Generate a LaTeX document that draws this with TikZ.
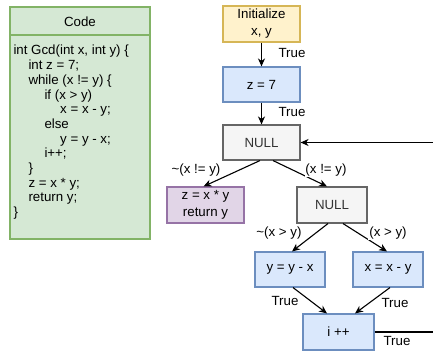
\documentclass[tikz,border=0pt]{standalone}
\usepackage{fontspec}
\setmainfont{Liberation Sans}
\usetikzlibrary{arrows.meta}
\definecolor{yfill}{HTML}{FFF2CC}\definecolor{ydraw}{HTML}{D6B656}
\definecolor{bfill}{HTML}{DAE8FC}\definecolor{bdraw}{HTML}{6C8EBF}
\definecolor{gfill}{HTML}{F5F5F5}\definecolor{gdraw}{HTML}{666666}\definecolor{gtext}{HTML}{333333}
\definecolor{pfill}{HTML}{E1D5E7}\definecolor{pdraw}{HTML}{9673A6}
\definecolor{cfill}{HTML}{D5E8D4}\definecolor{cdraw}{HTML}{82B366}
\tikzset{
  txt/.style={font=\fontsize{13.3}{15}\selectfont},
  box/.style={font=\fontsize{13.3}{17}\selectfont, draw, line width=1.1pt, minimum width=77pt, minimum height=35pt, inner sep=0pt, align=center},
  ybox/.style={box, fill=yfill, draw=ydraw},
  bbox/.style={box, fill=bfill, draw=bdraw},
  gbox/.style={box, fill=gfill, draw=gdraw, text=gtext},
  pbox/.style={box, fill=pfill, draw=pdraw},
  arr/.style={line width=1.1pt, -{Stealth[length=8pt,width=7pt,inset=2.5pt]}},
  plain/.style={line width=1.1pt},
  lab/.style={txt, fill=white, inner sep=1pt},
  codeline/.style={txt, anchor=base west, inner sep=0pt},
}
\begin{document}
\begin{tikzpicture}[x=1pt,y=-1pt]
\useasboundingbox (0,0) rectangle (433,363);
% code panel
\path[fill=cfill, draw=cdraw, line width=1.1pt] (10,7) rectangle (150,239);
\draw[cdraw, line width=1.1pt] (10,35) -- (150,35);
\node[txt] (codehead) at (80,22) {Code};
\node[codeline] (l1) at (13.3,55) {int Gcd(int x, int y) \{};
\node[codeline] (l2) at (28.3,69.7) {int z = 7;};
\node[codeline] (l3) at (28.3,84.4) {while (x != y) \{};
\node[codeline] (l4) at (44.3,99.1) {if (x > y)};
\node[codeline] (l5) at (60,113.8) {x = x - y;};
\node[codeline] (l6) at (44.3,128.5) {else};
\node[codeline] (l7) at (60,143.2) {y = y - x;};
\node[codeline] (l8) at (44.3,157.9) {i++;};
\node[codeline] (l9) at (28.3,172.6) {\}};
\node[codeline] (l10) at (28.3,187.3) {z = x * y;};
\node[codeline] (l11) at (28.3,202.0) {return y;};
\node[codeline] (l12) at (13.3,216.7) {\}};
% flowchart nodes
\node[ybox, minimum height=36pt] (init) at (261.5,24) {Initialize\\x, y};
\node[bbox] (z7) at (261.5,84.5) {z = 7};
\node[gbox] (null1) at (261.5,142.5) {NULL};
\node[pbox, minimum height=36pt] (zxy) at (205.5,205) {z = x * y\\return y};
\node[gbox, minimum width=70pt, minimum height=36pt] (null2) at (332,205) {NULL};
\node[bbox, minimum width=70pt] (yyx) at (290,269.5) {y = y - x};
\node[bbox, minimum width=70pt] (xxy) at (388,269.5) {x = x - y};
\node[bbox, minimum width=71pt, minimum height=36pt] (ipp) at (338.5,332) {i ++};
\coordinate (loopin) at (433,142.5);
\coordinate (loopout) at (433,332);
% connectors
\draw[arr] (init) -- (z7);
\draw[arr] (z7) -- (null1);
\draw[arr] (loopin) -- (null1.east);
\draw[arr] ([xshift=-1.5pt]null1.south) -- ([xshift=-2pt]zxy.north);
\draw[arr] ([xshift=11.5pt]null1.south) -- ([xshift=-5pt]null2.north);
\draw[arr] ([xshift=-4pt]null2.south) -- ([xshift=2pt]yyx.north);
\draw[arr] ([xshift=11pt]null2.south) -- ([xshift=-1pt]xxy.north);
\draw[arr] ([xshift=3pt]yyx.south) -- ([xshift=-11.5pt]ipp.north);
\draw[arr] ([xshift=2pt]xxy.south) -- ([xshift=16.5pt]ipp.north);
\draw[plain] (ipp.east) -- (loopout);
% labels
\node[lab] (t1) at (292,53) {True};
\node[lab] (t2) at (292,112) {True};
\node[lab] (c1) at (196,170) {\textasciitilde(x != y)};
\node[lab] (c2) at (326,170) {(x != y)};
\node[lab] (c3) at (279,233) {\textasciitilde(x > y)};
\node[lab] (c4) at (388,233) {(x > y)};
\node[lab] (t3) at (285,301) {True};
\node[lab] (t4) at (395,303) {True};
\node[lab] (t5) at (397,341) {True};
\end{tikzpicture}
\end{document}
